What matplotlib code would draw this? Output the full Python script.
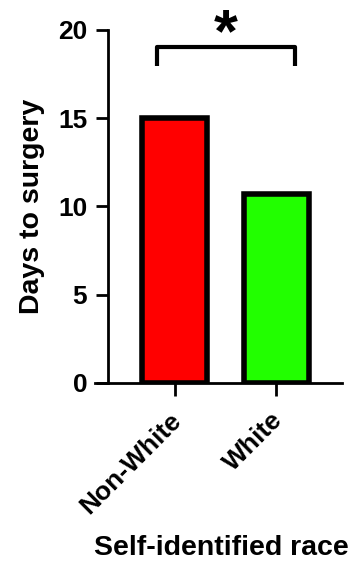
import matplotlib
matplotlib.use("Agg")
import matplotlib.pyplot as plt
import matplotlib.transforms as mtransforms

# Data
categories = ["Non-White", "White"]
days_to_surgery = [15.0, 10.7]
bar_colors = ["#FF0000", "#22FF00"]
y_ticks = [0, 5, 10, 15, 20]

plt.rcParams["font.family"] = ["Liberation Sans", "DejaVu Sans"]
plt.rcParams["font.weight"] = "bold"

fig = plt.figure(figsize=(3.52, 5.62), dpi=100)
ax = fig.add_axes([108 / 352, 1 - 383 / 562, 234 / 352, 353 / 562])

x = list(range(len(categories)))
ax.bar(x, days_to_surgery, width=0.64, color=bar_colors,
       edgecolor="black", linewidth=4, zorder=2)

ax.set_xlim(-0.66, 1.65)
ax.set_ylim(0, 20)

for side in ("top", "right"):
    ax.spines[side].set_visible(False)
for side in ("left", "bottom"):
    ax.spines[side].set_linewidth(2)
ax.spines["bottom"].set_bounds(-0.79, 1.65)

ax.set_yticks(y_ticks)
ax.set_yticklabels([str(t) for t in y_ticks], fontsize=19, fontweight="bold")
ax.set_xticks(x)
ax.set_xticklabels(categories, fontsize=19, fontweight="bold",
                   rotation=45, ha="right", rotation_mode="anchor")
ax.tick_params(axis="y", length=9, width=2, pad=6)
ax.tick_params(axis="x", length=9, width=2, pad=9)

# nudge the rotated category labels slightly to the left
shift = mtransforms.ScaledTranslation(-6 / 100, 0, fig.dpi_scale_trans)
for lbl in ax.get_xticklabels():
    lbl.set_transform(lbl.get_transform() + shift)

ax.set_ylabel("Days to surgery", fontsize=20.5, fontweight="bold")
ax.yaxis.set_label_coords(-0.27, 0.5)
ax.set_xlabel("Self-identified race", fontsize=20.5, fontweight="bold")
ax.xaxis.set_label_coords(0.483, -0.43)

# Significance bracket between the two groups
bx0, bx1, by0, by1 = -0.18, 1.19, 17.95, 19.05
ax.plot([bx0, bx0, bx1, bx1], [by0, by1, by1, by0], color="black",
        linewidth=3, solid_capstyle="butt", clip_on=False)
ax.text((bx0 + bx1) / 2, 18.8, "*", ha="center", va="baseline",
        fontsize=44, fontweight="bold", clip_on=False)

fig.savefig("out.png", dpi=100)
